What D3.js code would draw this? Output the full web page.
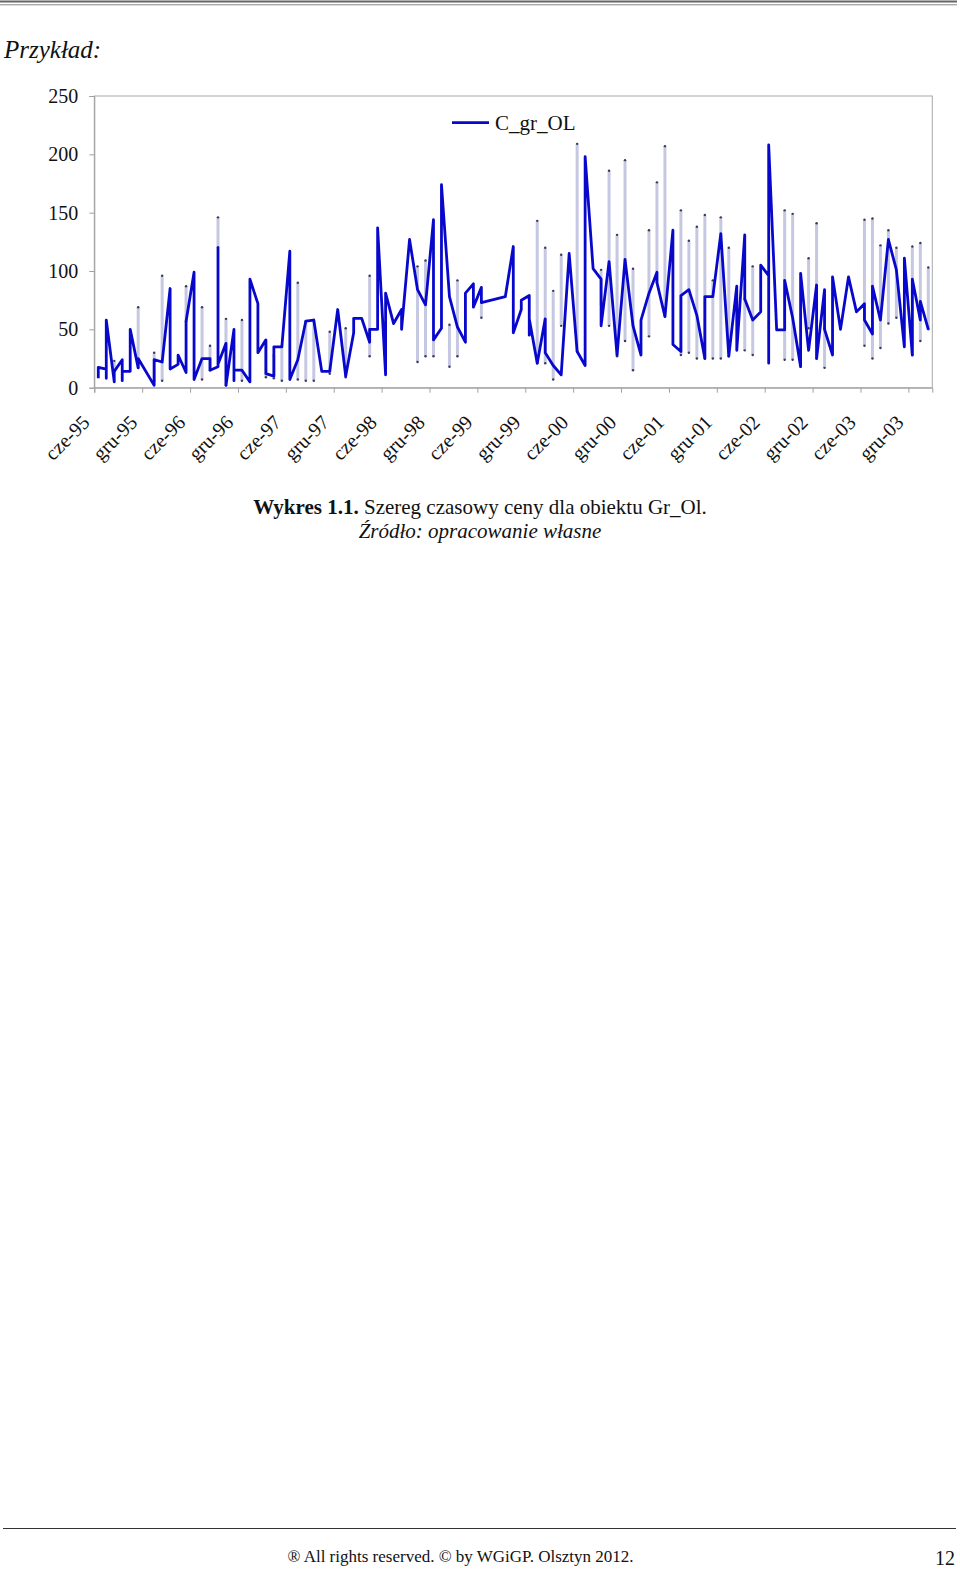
<!DOCTYPE html>
<html><head><meta charset="utf-8">
<script src="https://cdn.jsdelivr.net/npm/d3@7"></script>
<style>body{margin:0;background:#fff;} svg{display:block;}</style>
</head><body>
<svg id="page" width="960" height="1569"></svg>
<script>
// ---- data ----
const tickLabels = ["cze-95","gru-95","cze-96","gru-96","cze-97","gru-97","cze-98","gru-98","cze-99","gru-99","cze-00","gru-00","cze-01","gru-01","cze-02","gru-02","cze-03","gru-03"];
const yTicks = [0, 50, 100, 150, 200, 250];
const seriesName = "C_gr_OL";
// [month index since cze-95, price] in drawing order
const obs = [
[0,8],[0,17.5],[1,16],[1,8],[1,58],[2,5],[2,14],[3,24],[3,6],[3,14],[4,14],[4,50],[5,17],[5,25],
[7,2],[7,24],[8,22],[9,85],[9,16],[10,20],[10,28],[11,13],[11,57],[12,99],[12,7],[13,25],[14,25],[14,15],
[15,18],[15,120],[15,20],[16,38],[16,2],[17,50],[17,6],[17,15],[18,15],[19,5],[19,93],[20,72],[20,30],
[21,41],[21,12],[22,10],[22,35],[23,35],[24,117],[24,7],[25,24],[26,57],[27,58],[28,14],[29,14],
[30,67],[31,10],[32,47],[32,59.5],[33,59.5],[34,39],[34,50],[35,50],[35,137],[36,11],[36,81],[37,55],
[38,67],[38,50],[39,127],[40,84],[41,71],[42,144],[42,41],[43,51],[43,174],[44,78],[45,52],[46,39],[46,81],
[47,89],[47,69],[48,86],[48,73],[51,78],[52,121],[52,47],[53,67],[53,75],[54,79],[54,45],[54,59],[55,21],
[56,59],[56,30],[57,19],[58,11],[59,115],[60,31],[61,19],[61,198],[62,102],[63,93],[63,53],[64,108],[65,28],
[66,110],[67,53],[68,28],[68,58],[69,81],[70,99],[70,90],[71,61],[72,135],[72,37],[73,31],[73,79],[74,84],
[75,62],[76,25],[76,78],[77,78],[78,132],[79,27],[80,87],[80,32],[81,131],[81,76],[82,58],[83,65],[83,105],
[84,96],[84,21],[84,208],[85,49.5],[86,49.5],[86,92],[87,60],[88,18],[88,98],[89,32],[90,88],[90,25],
[91,84],[91,50],[92,28],[92,95],[93,50],[94,95],[95,65],[96,72],[96,58],[97,46],[97,87],[98,58],[99,127],
[100,101],[101,35],[101,111],[102,28],[102,93],[103,58],[103,74],[104,50]
];
// pale vertical ranges: [month, low, high]
const spikes = [
[2,14,23],[5,17,69],[7,6,30],[8,6,96],[11,57,87],[13,7,69],[14,15,36],[15,120,146],[16,2,59],[18,6,58],
[21,9,40],[22,8,28],[23,6,36],[25,7,90],[26,6,57],[27,6,58],[29,12,48],[31,9,51],[34,27,96],[40,22,104],
[41,27,109],[42,27,41],[44,18,54],[45,27,92],[48,60,73],[55,21,143],[56,21,120],[57,7,83],[58,53,114],
[60,31,209],[63,71,101],[64,53,186],[65,27,131],[66,40,195],[67,15,102],[69,44,135],[70,90,176],[71,61,207],
[73,28,152],[74,30,126],[75,25,138],[76,25,148],[77,25,92],[78,25,146],[79,27,120],[81,32,76],[82,28,104],
[86,24,152],[87,24,149],[89,51,111],[90,25,141],[91,17,51],[96,36,144],[97,25,145],[98,34,122],[99,55,135],
[100,60,120],[102,28,121],[103,40,124],[104,50,103]
];
const monthsShown = 105;

// ---- drawing ----
const svg = d3.select("#page");
const serif = "'Liberation Serif','Times New Roman',serif";

// top double rule
svg.append("line").attr("x1",0).attr("x2",957).attr("y1",1.5).attr("y2",1.5).attr("stroke","#666").attr("stroke-width",2.2);
svg.append("line").attr("x1",0).attr("x2",957).attr("y1",4.8).attr("y2",4.8).attr("stroke","#888").attr("stroke-width",1);

svg.append("text").attr("x",4).attr("y",58).attr("font-family",serif).attr("font-style","italic")
  .attr("font-size",25).attr("fill","#111").text("Przykład:");

const X0 = 94.3, X1 = 932.3, Y0 = 387.7, Y1 = 96;
const x = d3.scaleLinear().domain([0, monthsShown]).range([X0, X1]);
const y = d3.scaleLinear().domain([0, 250]).range([Y0, Y1]);
const cx = m => x(m + 0.5);

// frame
svg.append("rect").attr("x",X0).attr("y",Y1).attr("width",X1-X0).attr("height",Y0-Y1)
  .attr("fill","none").attr("stroke","#a8a8a8").attr("stroke-width",1);

// y axis
const yAxis = d3.axisLeft(y).tickValues(yTicks).tickSize(5).tickPadding(11).tickFormat(d3.format("d"));
const gy = svg.append("g").attr("transform",`translate(${X0},0)`).call(yAxis);
gy.select(".domain").attr("stroke","#a0a0a0");
gy.selectAll(".tick line").attr("stroke","#a0a0a0");
gy.selectAll(".tick text").attr("font-family",serif).attr("font-size",20).attr("fill","#111");

// x axis
const xTickVals = tickLabels.map((_, i) => i * 6);
const xAxis = d3.axisBottom(x).tickValues(xTickVals).tickSize(5).tickFormat((d, i) => tickLabels[i]);
const gx = svg.append("g").attr("transform",`translate(0,${Y0})`).call(xAxis);
gx.select(".domain").attr("stroke","#a0a0a0");
gx.selectAll(".tick line").attr("stroke","#a0a0a0");
gx.selectAll(".tick text").attr("font-family",serif).attr("font-size",20).attr("fill","#111")
  .attr("text-anchor","end").attr("dy",null).attr("y",null)
  .attr("transform","translate(-4,36) rotate(-45)");

// pale spikes
const sp = svg.append("g");
sp.selectAll("rect").data(spikes).join("rect")
  .attr("x", d => cx(d[0]) - 1.5).attr("width", 3)
  .attr("y", d => y(d[2])).attr("height", d => y(d[1]) - y(d[2]))
  .attr("fill","#c6c8e2");
sp.selectAll("circle.hi").data(spikes).join("circle").attr("class","hi")
  .attr("cx", d => cx(d[0])).attr("cy", d => y(d[2])).attr("r",1.2).attr("fill","#3a3a55");
sp.selectAll("circle.lo").data(spikes).join("circle").attr("class","lo")
  .attr("cx", d => cx(d[0])).attr("cy", d => y(d[1])).attr("r",1.2).attr("fill","#3a3a55");

// main line
const line = d3.line().x(d => cx(d[0])).y(d => y(d[1]));
svg.append("path").datum(obs).attr("d", line).attr("fill","none")
  .attr("stroke","#0808cc").attr("stroke-width",2.8).attr("stroke-linejoin","round");

// legend
svg.append("line").attr("x1",452).attr("x2",489).attr("y1",122.7).attr("y2",122.7)
  .attr("stroke","#0808cc").attr("stroke-width",2.8);
svg.append("text").attr("x",495).attr("y",130).attr("font-family",serif).attr("font-size",21)
  .attr("fill","#111").text(seriesName);

// caption
const cap = svg.append("text").attr("x",480).attr("y",514).attr("text-anchor","middle")
  .attr("font-family",serif).attr("font-size",21).attr("fill","#111");
cap.append("tspan").attr("font-weight","bold").text("Wykres 1.1.");
cap.append("tspan").text(" Szereg czasowy ceny dla obiektu Gr_Ol.");
svg.append("text").attr("x",480).attr("y",538).attr("text-anchor","middle")
  .attr("font-family",serif).attr("font-style","italic").attr("font-size",21).attr("fill","#111")
  .text("Źródło: opracowanie własne");

// footer
svg.append("line").attr("x1",3).attr("x2",956).attr("y1",1528.5).attr("y2",1528.5).attr("stroke","#333").attr("stroke-width",1.2);
svg.append("text").attr("x",460.5).attr("y",1562).attr("text-anchor","middle")
  .attr("font-family",serif).attr("font-size",17).attr("fill","#111")
  .text("® All rights reserved. © by WGiGP. Olsztyn 2012.");
svg.append("text").attr("x",955).attr("y",1565).attr("text-anchor","end")
  .attr("font-family",serif).attr("font-size",20).attr("fill","#111").text("12");
</script>
</body></html>
